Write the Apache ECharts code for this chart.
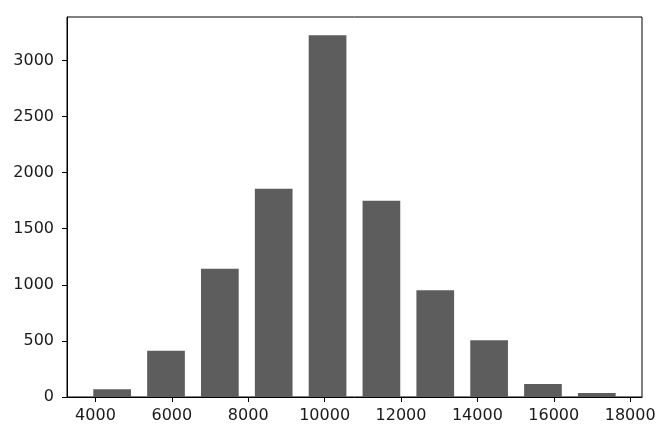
<!DOCTYPE html>
<html>
<head>
<meta charset="utf-8">
<script src="https://cdn.jsdelivr.net/npm/echarts@6/dist/echarts.min.js"></script>
<style>
html,body{margin:0;padding:0;background:#fff;}
#c{width:667px;height:438px;}
</style>
</head>
<body>
<div id="c"></div>
<script>
var binEdges = [3732, 5142, 6552, 7962, 9372, 10782, 12192, 13602, 15012, 16422, 17832];
var counts = [68, 412, 1143, 1857, 3225, 1750, 952, 506, 115, 35];
var xTicks = [4000, 6000, 8000, 10000, 12000, 14000, 16000, 18000];
var yTicks = [0, 500, 1000, 1500, 2000, 2500, 3000];

var rwidth = 0.7;
var data = counts.map(function (c, i) { return [binEdges[i], binEdges[i + 1], c]; });

var chart = echarts.init(document.getElementById('c'), null, {renderer: 'canvas'});
var font = 'DejaVu Sans';
function plain(v) { return String(v); }
chart.setOption({
  animation: false,
  backgroundColor: '#ffffff',
  grid: {left: 67, right: 25, top: 17, bottom: 41, show: true, borderColor: '#000', borderWidth: 1, backgroundColor: 'transparent'},
  xAxis: {
    type: 'value', min: 3255, max: 18310,
    splitLine: {show: false},
    axisLine: {show: true, onZero: false, lineStyle: {color: '#000', width: 1}},
    axisTick: {show: true, length: 5, lineStyle: {color: '#000'}, customValues: xTicks},
    axisLabel: {show: true, color: '#1a1a1a', fontFamily: font, fontSize: 16, margin: 11, formatter: plain, customValues: xTicks}
  },
  yAxis: {
    type: 'value', min: 0, max: 3387,
    splitLine: {show: false},
    axisLine: {show: true, lineStyle: {color: '#000', width: 1}},
    axisTick: {show: true, length: 5, lineStyle: {color: '#000'}, customValues: yTicks},
    axisLabel: {show: true, color: '#1a1a1a', fontFamily: font, fontSize: 16, margin: 13, formatter: plain, customValues: yTicks}
  },
  series: [{
    type: 'custom',
    data: data,
    encode: {x: [0, 1], y: 2},
    renderItem: function (params, api) {
      var a = api.value(0), b = api.value(1), h = api.value(2);
      var w = b - a;
      var s = a + w * (1 - rwidth) / 2, e = s + w * rwidth;
      var p0 = api.coord([s, h]);
      var p1 = api.coord([e, 0]);
      return {
        type: 'rect',
        shape: {x: p0[0], y: p0[1], width: p1[0] - p0[0], height: p1[1] - p0[1]},
        style: {fill: '#5d5d5d'}
      };
    }
  }]
});
</script>
</body>
</html>
